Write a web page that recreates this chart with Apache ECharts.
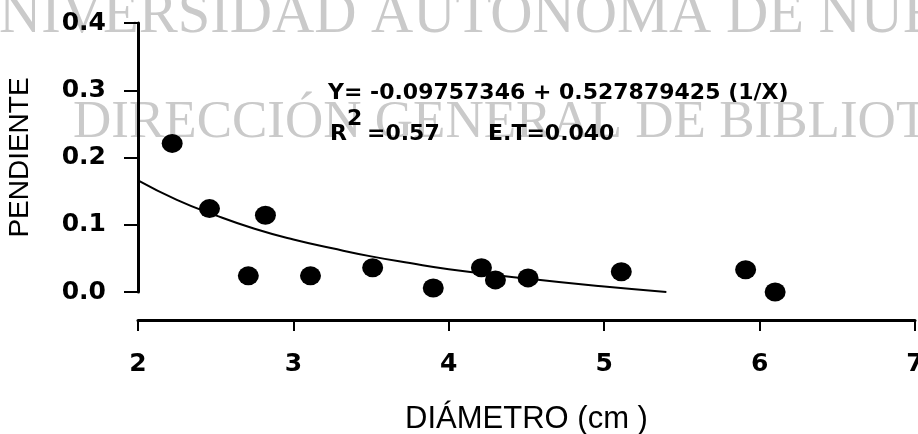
<!DOCTYPE html>
<html><head><meta charset="utf-8">
<script src="https://cdn.jsdelivr.net/npm/echarts@6/dist/echarts.min.js"></script>
<style>html,body{margin:0;padding:0;background:#fff}#c{width:918px;height:434px}</style>
</head><body><div id="c"></div>
<script>
// Observed points
const diametro = [2.22, 2.46, 2.71, 2.82, 3.11, 3.51, 3.90, 4.21, 4.30, 4.51, 5.11, 5.91, 6.10];
const pendiente = [0.221, 0.124, 0.024, 0.114, 0.024, 0.036, 0.006, 0.036, 0.018, 0.021, 0.030, 0.033, 0.000];
// Fitted curve
const curvaX = [2.0, 2.25, 2.5, 2.75, 3.0, 3.25, 3.5, 3.75, 4.0, 4.5, 5.0, 5.4];
const curvaY = [0.166, 0.137, 0.114, 0.094, 0.078, 0.065, 0.053, 0.043, 0.034, 0.020, 0.008, 0.000];
const xTicks = [2, 3, 4, 5, 6, 7];
const yTicks = ['0.0', '0.1', '0.2', '0.3', '0.4'];
const textoEcuacion = 'Y= -0.09757346 + 0.527879425 (1/X)';
const textoR2 = '=0.57';
const textoET = 'E.T=0.040';
const marcaAgua1 = 'NIVERSIDAD AUTONOMA DE NUEVO LEON';
const marcaAgua2 = 'DIRECCIÓN GENERAL DE BIBLIOTECAS';

const chart = echarts.init(document.getElementById('c'), null, {renderer: 'canvas'});
const boldFont = 'bold 22px "DejaVu Sans"';
chart.setOption({
  backgroundColor: '#ffffff',
  animation: false,
  grid: {left: 138, right: 3, top: 23, bottom: 142, containLabel: false, outerBoundsMode: 'none'},
  graphic: [
    {type: 'text', z: -10, silent: true, style: {text: marcaAgua1, x: -1, y: 17, font: '58.5px "Liberation Serif"', fill: '#cacaca', textVerticalAlign: 'middle'}},
    {type: 'text', z: -10, silent: true, style: {text: marcaAgua2, x: 73, y: 123, font: '53px "Liberation Serif"', fill: '#cacaca', textVerticalAlign: 'middle'}},
    {type: 'text', z: 100, style: {text: textoEcuacion, x: 328, y: 93, font: boldFont, fill: '#000', textVerticalAlign: 'middle'}},
    {type: 'text', z: 100, style: {text: 'R', x: 330, y: 134, font: boldFont, fill: '#000', textVerticalAlign: 'middle'}},
    {type: 'text', z: 100, style: {text: '2', x: 347, y: 119, font: boldFont, fill: '#000', textVerticalAlign: 'middle'}},
    {type: 'text', z: 100, style: {text: textoR2, x: 367, y: 134, font: boldFont, fill: '#000', textVerticalAlign: 'middle'}},
    {type: 'text', z: 100, style: {text: textoET, x: 488, y: 134, font: boldFont, fill: '#000', textVerticalAlign: 'middle'}}
  ],
  xAxis: {
    type: 'value', min: xTicks[0], max: xTicks[xTicks.length - 1], interval: 1, offset: 28,
    axisLine: {show: true, onZero: false, lineStyle: {color: '#000', width: 3}},
    axisTick: {show: true, length: 11, lineStyle: {color: '#000', width: 2}},
    splitLine: {show: false},
    axisLabel: {color: '#000', fontFamily: 'DejaVu Sans', fontWeight: 'bold', fontSize: 25, margin: 32},
    name: 'DIÁMETRO (cm )', nameLocation: 'middle', nameGap: 84,
    nameTextStyle: {color: '#000', fontFamily: 'Liberation Sans', fontSize: 31}
  },
  yAxis: {
    type: 'value', min: 0, max: 0.4, interval: 0.1,
    axisLine: {show: true, onZero: false, lineStyle: {color: '#000', width: 3}},
    axisTick: {show: true, length: 14, lineStyle: {color: '#000', width: 2}},
    splitLine: {show: false},
    axisLabel: {color: '#000', fontFamily: 'DejaVu Sans', fontWeight: 'bold', fontSize: 25, margin: 32,
      formatter: v => yTicks[Math.round(v * 10)]},
    name: 'PENDIENTE', nameLocation: 'middle', nameGap: 104,
    nameTextStyle: {color: '#000', fontFamily: 'Liberation Sans', fontSize: 28}
  },
  series: [
    {type: 'line', data: curvaX.map((x, i) => [x, curvaY[i]]), smooth: true, showSymbol: false,
      lineStyle: {color: '#000', width: 2}, z: 3},
    {type: 'scatter', data: diametro.map((x, i) => [x, pendiente[i]]), symbol: 'circle', symbolSize: [21, 19],
      itemStyle: {color: '#000', opacity: 1}, clip: false, z: 4}
  ]
});
</script></body></html>
